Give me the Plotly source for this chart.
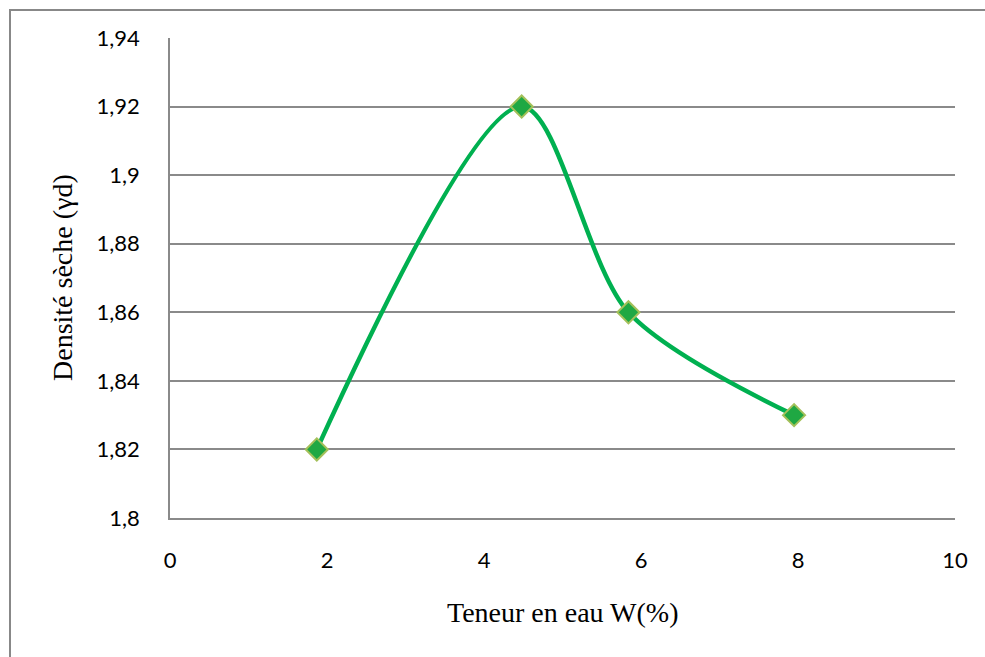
import plotly.graph_objects as go

# Proctor test: dry density versus water content
teneur_eau = [1.87, 4.48, 5.84, 7.95]          # W (%)
densite_seche = [1.82, 1.92, 1.86, 1.83]       # γd

x_ticks = [0, 2, 4, 6, 8, 10]
x_tick_labels = ["0", "2", "4", "6", "8", "10"]
y_ticks = [1.80, 1.82, 1.84, 1.86, 1.88, 1.90, 1.92, 1.94]
y_tick_labels = ["1,8", "1,82", "1,84", "1,86", "1,88", "1,9", "1,92", "1,94"]

GRID = "#8a8a8a"
TICK_FONT = dict(family="Lato, 'Open Sans', sans-serif", size=22, color="#000000")
TITLE_FONT = dict(family="'Liberation Serif', 'Times New Roman', serif", size=28, color="#000000")

fig = go.Figure()
fig.add_trace(go.Scatter(
    x=teneur_eau,
    y=densite_seche,
    mode="lines+markers",
    line=dict(color="#00b050", width=4.5, shape="spline", smoothing=0.85),
    marker=dict(symbol="diamond", size=17, color="#1fa843",
                line=dict(color="#a4c05a", width=2)),
    showlegend=False,
    hoverinfo="x+y",
))

W, H = 985, 657
L, R, T, B = 170, 30, 38, 139
pw, ph = W - L - R, H - T - B

fig.update_layout(
    width=W, height=H,
    margin=dict(l=L, r=R, t=T, b=B, pad=0),
    paper_bgcolor="white",
    plot_bgcolor="white",
    separators=", ",
    xaxis=dict(
        range=[0, 10], tickvals=x_ticks, ticktext=x_tick_labels,
        showgrid=False, zeroline=False,
        showline=True, linecolor=GRID, linewidth=1.5,
        ticks="", tickfont=TICK_FONT, ticklabelstandoff=22,
        fixedrange=True,
    ),
    yaxis=dict(
        range=[1.80, 1.94], tickvals=y_ticks, ticktext=y_tick_labels,
        showgrid=True, gridcolor=GRID, gridwidth=1.5,
        zeroline=False, showline=True, linecolor=GRID, linewidth=1.5,
        ticks="", tickfont=TICK_FONT, ticklabelstandoff=24,
        fixedrange=True,
    ),
    annotations=[
        dict(text="Teneur en eau W(%)", xref="paper", yref="paper",
             x=0.5, y=-(612 - T - ph) / ph, xanchor="center", yanchor="middle",
             showarrow=False, font=TITLE_FONT),
        dict(text="Densité sèche (γd)", xref="paper", yref="paper",
             x=(62 - L) / pw, y=0.5, xanchor="center", yanchor="middle",
             textangle=-90, showarrow=False, font=TITLE_FONT),
    ],
    shapes=[
        # outer frame of the chart
        dict(type="rect", xref="paper", yref="paper",
             x0=(10 - L) / pw, x1=(W + 10 - L) / pw,
             y0=-(H + 10 - T - ph) / ph, y1=1 + (T - 10) / ph,
             line=dict(color="#888888", width=2), layer="below"),
    ],
)

fig.write_html("out.html")
